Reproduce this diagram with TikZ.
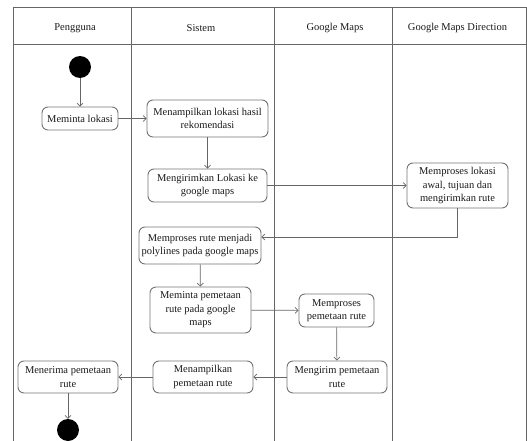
\documentclass[tikz,border=0pt]{standalone}
\usepackage{fontspec}
\setmainfont{Liberation Serif}
\usetikzlibrary{arrows.meta,calc}
\begin{document}
\begin{tikzpicture}[x=1pt,y=-1pt,
  every node/.style={font=\fontsize{10.5}{13.5}\selectfont, text=black!90},
  act/.style={draw=black!55, line width=0.9pt, rounded corners=6pt, align=center, inner sep=0pt},
  dot/.style={circle, fill=black, minimum size=22pt, inner sep=0pt},
  lane/.style={draw=black!60, line width=0.9pt},
  flow/.style={draw=black!60, line width=0.7pt, -{Straight Barb[length=3pt,width=6pt]}},
  head/.style={anchor=center}]
\useasboundingbox (0,0) rectangle (527,441);
\clip (0,0) rectangle (527,441);
% swimlanes
\draw[lane] (13,441) -- (13,7) -- (526,7) -- (526,441);
\draw[lane] (13,44) -- (526,44);
\draw[lane] (131,7) -- (131,441);
\draw[lane] (274,7) -- (274,441);
\draw[lane] (392,7) -- (392,441);
\node[head] (h1) at (75,28) {Pengguna};
\node[head] (h2) at (201,28) {Sistem};
\node[head] (h3) at (335,28) {Google Maps};
\node[head] (h4) at (457.5,28) {Google Maps Direction};
% nodes
\node[dot] (start) at (80,67) {};
\node[act, minimum width=76pt, minimum height=23pt] (a1) at (80,118.5) {Meminta lokasi};
\node[act, minimum width=121pt, minimum height=37pt] (s1) at (207.5,118.5) {Menampilkan lokasi hasil\\rekomendasi};
\node[act, minimum width=119pt, minimum height=33pt] (s2) at (207.5,185.5) {Mengirimkan Lokasi ke\\google maps};
\node[act, minimum width=101pt, minimum height=45pt] (d1) at (457.5,185.5) {Memproses lokasi\\awal, tujuan dan\\mengirimkan rute};
\node[act, minimum width=122pt, minimum height=37pt] (s3) at (200,245.5) {Memproses rute menjadi\\polylines pada google maps};
\node[act, minimum width=101pt, minimum height=46pt] (s4) at (200.5,310) {Meminta pemetaan\\rute pada google\\maps};
\node[act, minimum width=75pt, minimum height=33pt] (g1) at (336.5,310.5) {Memproses\\pemetaan rute};
\node[act, minimum width=100pt, minimum height=32pt] (g2) at (337,377) {Mengirim pemetaan\\rute};
\node[act, minimum width=100pt, minimum height=32pt] (s5) at (203,377) {Menampilkan\\pemetaan rute};
\node[act, minimum width=100pt, minimum height=32pt] (a2) at (68,377) {Menerima pemetaan\\rute};
\node[dot] (end) at (68,430) {};
% flows
\draw[flow] (start) -- (a1);
\draw[flow] (a1) -- (s1);
\draw[flow] (s1) -- (s2);
\draw[flow] (s2) -- (d1);
\draw[flow] (d1.south) |- ([yshift=8.5pt]s3.east);
\draw[flow] (s3) -- (s4);
\draw[flow] (s4) -- (g1);
\draw[flow] (g1) -- (g2);
\draw[flow] (g2) -- (s5);
\draw[flow] (s5) -- (a2);
\draw[flow] (a2) -- (end);
\end{tikzpicture}
\end{document}
